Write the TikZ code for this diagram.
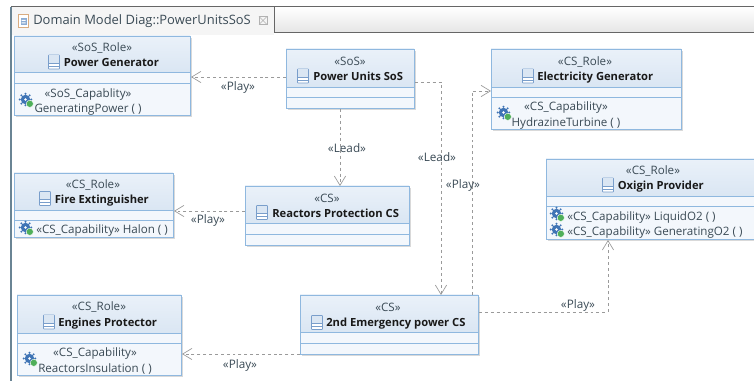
\documentclass[tikz,border=0pt]{standalone}
\usepackage{fontspec}
\setmainfont{Open Sans}
\usetikzlibrary{arrows.meta}
\definecolor{bordr}{HTML}{8FB8DF}
\definecolor{headtop}{HTML}{EAF1F9}
\definecolor{headbot}{HTML}{DAE6F3}
\definecolor{bodyc}{HTML}{F3F7FC}
\definecolor{txtc}{HTML}{3A4A55}
\definecolor{conn}{HTML}{9A9A9A}
\definecolor{iconb}{HTML}{3F74B5}
\definecolor{icong}{HTML}{4FAF5A}
\definecolor{framec}{HTML}{6A8494}
\tikzset{
  x=0.75pt,y=-0.75pt,
  boxshape/.style={draw=none,minimum width=0pt,minimum height=0pt,inner sep=0pt},
  even/.style={text height=7.8pt,text depth=2pt,inner sep=0pt},
  stereo/.style={even,font=\fontsize{8.7}{10}\selectfont,text=txtc},
  titletext/.style={even,font=\fontsize{8.4}{10}\selectfont\bfseries,text=black!90},
  captext/.style={even,font=\fontsize{8.7}{10}\selectfont,text=txtc},
  linklabel/.style={even,font=\fontsize{8.8}{10}\selectfont,text=txtc},
  playline/.style={draw=conn,dash pattern=on 2.2pt off 2.2pt,line width=0.6pt,-{Straight Barb[length=7pt,width=8.5pt,line width=0.5pt,color=conn]}},
}
% #1 name, #2 x1, #3 y1, #4 x2, #5 y2, #6 line1 y, #7 line2 y
\newcommand{\umlbox}[7]{%
  \fill[black!15] (#2+2,#3+2) rectangle (#4+2,#5+2);
  \fill[bodyc] (#2,#3) rectangle (#4,#5);
  \shade[top color=headtop,bottom color=headbot] (#2,#3) rectangle (#4,#6);
  \draw[bordr,line width=0.7pt] (#2,#6) -- (#4,#6) (#2,#7) -- (#4,#7);
  \node[boxshape,draw=bordr,line width=0.8pt,fill=none,minimum width={(#4-#2)*0.75pt},minimum height={(#5-#3)*0.75pt},anchor=north west] (#1) at (#2,#3) {};
}
\newcommand{\clsicon}[2]{%
  \begin{scope}[shift={(#1,#2)}]
    \draw[iconb!70,fill=white,line width=0.5pt,rounded corners=0.5pt] (-5.5,-7) rectangle (5.5,7);
    \fill[headbot] (-5,-6.5) rectangle (5,1);
    \draw[iconb!70,line width=0.5pt] (-5.5,1) -- (5.5,1) (-5.5,4) -- (5.5,4);
  \end{scope}}
\newcommand{\capicon}[2]{%
  \begin{scope}[shift={(#1,#2)}]
    \fill[iconb] (-1.5,-1.5) circle (4.7);
    \foreach \a in {0,45,...,315} \fill[iconb] (-1.5,-1.5) ++(\a:5.8) circle (1.1);
    \fill[white] (-1.5,-1.5) circle (1.4);
    \fill[icong,draw=white,line width=0.3pt] (2.8,2.8) circle (3.6);
  \end{scope}}
\begin{document}
\begin{tikzpicture}
\useasboundingbox (0,0) rectangle (754,381);
\fill[white] (0,0) rectangle (754,381);
% editor frame and tab
\fill[black!4] (11,7) rectangle (274,35);
\shade[top color=white,bottom color=black!10] (274,7) rectangle (754,32);
\draw[black!60,line width=0.7pt] (274,7) -- (274,32.5) -- (754,32.5);
\draw[black!60,line width=0.8pt] (11,6.5) -- (754,6.5);
\draw[framec,line width=1pt] (11,7) -- (11,381);
% tab icon
\draw[black!30!orange!50,fill=white,line width=0.5pt] (18.5,14.5) rectangle (28.5,27.5);
\fill[iconb!60] (20.5,18) rectangle (26.5,25);
\fill[white] (21.5,20) rectangle (25.5,21) (21.5,22.5) rectangle (25.5,23.5);
\node[anchor=west,even,font=\fontsize{9.7}{11}\selectfont,text=txtc] (tabtext) at (33,21) {Domain Model Diag::PowerUnitsSoS};
\draw[black!30,line width=0.5pt] (259,16.5) -- (267,24.5) (267,16.5) -- (259,24.5);
\draw[black!30,line width=0.4pt] (259,16.5) rectangle (267,24.5);
% boxes
\umlbox{pg}{14}{36}{190}{115}{72}{83}
\umlbox{pu}{286}{49}{414}{108}{87}{97}
\umlbox{eg}{491}{49}{681}{129}{87}{97}
\umlbox{ox}{546}{159}{760}{239}{196}{206}
\umlbox{fe}{14}{173}{173}{237}{210}{220}
\umlbox{rp}{245}{186}{409}{245}{223}{234}
\umlbox{ep}{17}{295}{181}{375}{333}{343}
\umlbox{em}{300}{295}{478}{354}{332}{343}
% class headers
\node[stereo] (pgs) at (102,48) {«SoS\_Role»};
\clsicon{54}{62}
\node[titletext,anchor=west] (pgt) at (63.5,63) {Power Generator};
\node[stereo] (pus) at (350,62) {«SoS»};
\clsicon{303}{76}
\node[titletext,anchor=west] (put) at (313,77) {Power Units SoS};
\node[stereo] (egs) at (585,62) {«CS\_Role»};
\clsicon{528}{76}
\node[titletext,anchor=west] (egt) at (537,77) {Electricity Generator};
\node[stereo] (oxs) at (653,171) {«CS\_Role»};
\clsicon{608}{185}
\node[titletext,anchor=west] (oxt) at (617.5,186) {Oxigin Provider};
\node[stereo] (fes) at (93,185) {«CS\_Role»};
\clsicon{45}{198.5}
\node[titletext,anchor=west] (fet) at (54.5,200) {Fire Extinguisher};
\node[stereo] (rps) at (327,199) {«CS»};
\clsicon{262}{212.5}
\node[titletext,anchor=west] (rpt) at (272,214) {Reactors Protection CS};
\node[stereo] (eps) at (99,307) {«CS\_Role»};
\clsicon{49}{322}
\node[titletext,anchor=west] (ept) at (58,323) {Engines Protector};
\node[stereo] (ems) at (388,308) {«CS»};
\clsicon{317}{322.5}
\node[titletext,anchor=west] (emt) at (326,323) {2nd Emergency power CS};
% capabilities
\capicon{27}{101}
\node[captext] (pgc1) at (88,94) {«SoS\_Capablity»};
\node[captext] (pgc2) at (88,109) {GeneratingPower ( )};
\capicon{505}{114}
\node[captext] (egc1) at (566,107) {«CS\_Capability»};
\node[captext] (egc2) at (566,123) {HydrazineTurbine ( )};
\capicon{558}{215}
\node[captext,anchor=west] (oxc1) at (567,216.5) {«CS\_Capability» LiquidO2 ( )};
\capicon{558}{231}
\node[captext,anchor=west] (oxc2) at (567,232) {«CS\_Capability» GeneratingO2 ( )};
\capicon{27}{229}
\node[captext,anchor=west] (fec) at (36,230) {«CS\_Capability» Halon ( )};
\capicon{31}{360}
\node[captext] (epc1) at (95,353) {«CS\_Capability»};
\node[captext] (epc2) at (95,368.5) {ReactorsInsulation ( )};
% connectors
\draw[playline] (pu.west |- 0,77) -- (pg.east |- 0,77);
\draw[playline] (pu.south -| 340,0) -- (rp.north -| 340,0);
\coordinate (b1) at (441,82);
\draw[playline] (pu.east |- b1) -- (b1) -- (em.north -| b1);
\coordinate (b2) at (472,91);
\draw[playline] (em.north -| b2) -- (b2) -- (eg.west |- b2);
\draw[playline] (rp.west |- 0,211) -- (fe.east |- 0,211);
\coordinate (b3) at (608,312);
\draw[playline] (em.east |- b3) -- (b3) -- (ox.south -| b3);
\draw[playline] (em.west |- 0,354) -- (ep.east |- 0,354);
% connector labels
\node[linklabel] (l1) at (238,87) {«Play»};
\node[linklabel] (l2) at (347,148.5) {«Lead»};
\node[linklabel] (l3) at (437,157.5) {«Lead»};
\node[linklabel] (l4) at (463,184.5) {«Play»};
\node[linklabel] (l5) at (208,220) {«Play»};
\node[linklabel] (l6) at (578,304.5) {«Play»};
\node[linklabel] (l7) at (240,364.5) {«Play»};
\end{tikzpicture}
\end{document}
